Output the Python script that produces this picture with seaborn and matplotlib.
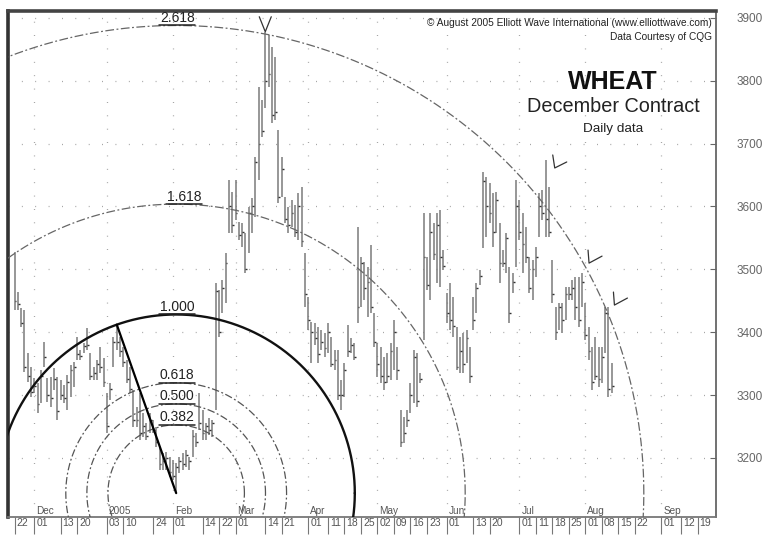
import numpy as np
import pandas as pd
import matplotlib
matplotlib.use("Agg")
import matplotlib.pyplot as plt
import matplotlib.transforms as mtransforms
import seaborn as sns

# ---- trading calendar -------------------------------------------------------
first_session = "2004-11-22"
last_session = "2005-09-30"
exchange_holidays = ["2004-11-25", "2004-12-24", "2005-01-17", "2005-02-21",
                     "2005-03-25", "2005-05-30", "2005-07-04", "2005-09-05"]

# ---- daily bars (December wheat) --------------------------------------------
highs = [3528, 3464, 3438, 3435, 3367, 3345, 3327, 3319, 3340, 3384,
         3327, 3329, 3343, 3329, 3324, 3316, 3332, 3348, 3353, 3392,
         3372, 3383, 3407, 3367, 3345, 3356, 3376, 3359, 3303, 3319,
         3392, 3412, 3392, 3376, 3356, 3345, 3308, 3281, 3303, 3272,
         3256, 3272, 3260, 3249, 3217, 3208, 3210, 3202, 3197, 3192,
         3202, 3208, 3213, 3202, 3245, 3240, 3303, 3276, 3256, 3264,
         3260, 3478, 3467, 3483, 3526, 3642, 3623, 3642, 3575, 3574,
         3558, 3599, 3613, 3679, 3790, 3769, 3878, 3873, 3853, 3838,
         3721, 3679, 3615, 3599, 3610, 3602, 3621, 3631, 3526, 3456,
         3416, 3415, 3408, 3404, 3399, 3415, 3392, 3372, 3372, 3324,
         3351, 3411, 3391, 3383, 3567, 3520, 3512, 3504, 3539, 3431,
         3383, 3376, 3361, 3367, 3383, 3419, 3376, 3276, 3265, 3276,
         3319, 3372, 3367, 3335, 3590, 3520, 3590, 3574, 3590, 3594,
         3531, 3462, 3478, 3456, 3408, 3392, 3399, 3404, 3376, 3456,
         3478, 3499, 3655, 3647, 3637, 3621, 3623, 3574, 3531, 3558,
         3504, 3494, 3642, 3610, 3590, 3567, 3520, 3515, 3535, 3621,
         3626, 3674, 3631, 3515, 3440, 3446, 3446, 3472, 3472, 3483,
         3488, 3488, 3494, 3446, 3408, 3376, 3392, 3376, 3376, 3440,
         3440, 3351]
lows = [3435, 3435, 3408, 3337, 3321, 3297, 3303, 3272, 3287, 3345,
        3289, 3281, 3308, 3260, 3292, 3287, 3276, 3297, 3313, 3356,
        3356, 3367, 3372, 3324, 3324, 3324, 3335, 3313, 3240, 3292,
        3345, 3372, 3361, 3345, 3319, 3303, 3249, 3249, 3229, 3233,
        3229, 3240, 3240, 3217, 3181, 3181, 3181, 3170, 3165, 3144,
        3176, 3181, 3186, 3181, 3202, 3217, 3245, 3229, 3229, 3237,
        3233, 3276, 3392, 3431, 3446, 3558, 3558, 3578, 3547, 3535,
        3494, 3526, 3558, 3583, 3642, 3710, 3757, 3790, 3733, 3737,
        3605, 3615, 3574, 3558, 3567, 3551, 3547, 3535, 3440, 3404,
        3351, 3380, 3351, 3372, 3361, 3367, 3345, 3340, 3292, 3276,
        3297, 3361, 3367, 3356, 3415, 3440, 3451, 3424, 3431, 3376,
        3329, 3319, 3308, 3319, 3324, 3340, 3324, 3217, 3224, 3249,
        3272, 3287, 3281, 3319, 3388, 3467, 3451, 3515, 3478, 3472,
        3499, 3415, 3404, 3392, 3340, 3335, 3335, 3351, 3319, 3404,
        3431, 3475, 3534, 3551, 3574, 3535, 3558, 3478, 3504, 3494,
        3415, 3462, 3504, 3547, 3494, 3510, 3462, 3451, 3488, 3551,
        3578, 3551, 3551, 3446, 3388, 3404, 3399, 3419, 3451, 3451,
        3419, 3408, 3440, 3388, 3356, 3308, 3324, 3313, 3319, 3367,
        3297, 3303]
closes = [3450, 3445, 3415, 3345, 3330, 3305, 3315, 3285, 3330, 3360,
          3300, 3295, 3325, 3275, 3300, 3295, 3320, 3340, 3345, 3365,
          3362, 3378, 3380, 3330, 3335, 3350, 3345, 3320, 3250, 3310,
          3385, 3385, 3370, 3352, 3325, 3310, 3260, 3260, 3240, 3250,
          3235, 3260, 3245, 3225, 3190, 3195, 3200, 3178, 3172, 3185,
          3195, 3190, 3205, 3195, 3235, 3225, 3255, 3240, 3250, 3245,
          3255, 3465, 3400, 3470, 3510, 3600, 3570, 3590, 3555, 3560,
          3500, 3590, 3600, 3670, 3700, 3720, 3800, 3810, 3745, 3750,
          3615, 3660, 3580, 3570, 3590, 3560, 3600, 3545, 3460, 3420,
          3400, 3390, 3365, 3385, 3375, 3400, 3350, 3355, 3300, 3300,
          3340, 3370, 3380, 3360, 3440, 3510, 3470, 3480, 3440, 3385,
          3350, 3330, 3320, 3330, 3370, 3400, 3340, 3225, 3240, 3260,
          3300, 3360, 3290, 3325, 3520, 3475, 3560, 3525, 3570, 3520,
          3505, 3430, 3420, 3410, 3345, 3370, 3350, 3390, 3330, 3420,
          3470, 3490, 3640, 3600, 3590, 3560, 3610, 3510, 3510, 3550,
          3430, 3480, 3600, 3560, 3540, 3520, 3470, 3500, 3520, 3600,
          3590, 3580, 3560, 3460, 3400, 3440, 3420, 3460, 3460, 3470,
          3440, 3420, 3480, 3395, 3370, 3320, 3330, 3325, 3360, 3430,
          3310, 3315]

price_ticks = [3200, 3300, 3400, 3500, 3600, 3700, 3800, 3900]
day_ticks = ["2004-11-22", "2004-12-01", "2004-12-13", "2004-12-20",
             "2005-01-03", "2005-01-10", "2005-01-24", "2005-02-01",
             "2005-02-14", "2005-02-22", "2005-03-01", "2005-03-14",
             "2005-03-21", "2005-04-01", "2005-04-11", "2005-04-18",
             "2005-04-25", "2005-05-02", "2005-05-09", "2005-05-16",
             "2005-05-23", "2005-06-01", "2005-06-13", "2005-06-20",
             "2005-07-01", "2005-07-11", "2005-07-18", "2005-07-25",
             "2005-08-01", "2005-08-08", "2005-08-15", "2005-08-22",
             "2005-09-01", "2005-09-12", "2005-09-19"]
month_starts = ["2004-12-01", "2005-01-03", "2005-02-01", "2005-03-01",
                "2005-04-01", "2005-05-02", "2005-06-01", "2005-07-01",
                "2005-08-01", "2005-09-01"]
month_names = ["Dec", "2005", "Feb", "Mar", "Apr", "May", "Jun", "Jul",
               "Aug", "Sep"]
fib_ratios = [0.382, 0.500, 0.618, 1.000, 1.618, 2.618]
fib_labels = ["0.382", "0.500", "0.618", "1.000", "1.618", "2.618"]
marked_highs = [76, 161, 172, 180]

# ---- style -------------------------------------------------------------------
sns.set_theme(style="white")
plt.rcParams["font.family"] = ["Liberation Sans", "DejaVu Sans"]

sessions = pd.bdate_range(first_session, last_session).difference(
    pd.to_datetime(exchange_holidays))
session_pos = {d: i for i, d in enumerate(sessions)}

bars = pd.DataFrame({"session": np.arange(len(highs)), "high": highs,
                     "low": lows, "close": closes})

W, H = 762, 536
fig = plt.figure(figsize=(W / 100, H / 100), dpi=100)
ax = fig.add_axes([8 / W, 19 / H, 708 / W, 506 / H])
ax.set_xlim(-1.97, 212.6)
ax.set_ylim(3106, 3911)

# dotted reference grid
for p in price_ticks:
    ax.axhline(p, color="#9a9a9a", lw=0.9, ls=(0, (0.7, 10)), zorder=0)
for d in month_starts:
    ax.axvline(session_pos[pd.Timestamp(d)], color="#9a9a9a", lw=0.9,
               ls=(0, (0.7, 10)), zorder=0)

# high-low bars with close ticks
ax.vlines(bars["session"], bars["low"], bars["high"], color="#7a7a7a",
          lw=1.1, zorder=3)
ax.hlines(bars["close"], bars["session"], bars["session"] + 0.55,
          color="#333333", lw=1.0, zorder=4)

# swing used for the circles: January high down to the February low
hi_i = 20 + int(np.argmax(highs[20:45]))
lo_i = int(np.argmin(lows[:60]))
swing = pd.DataFrame({"session": [hi_i, lo_i],
                      "price": [highs[hi_i], lows[lo_i]]})
sns.lineplot(data=swing, x="session", y="price", ax=ax, color="black",
             lw=1.6, zorder=6)

to_disp = ax.transData
to_data = ax.transData.inverted()
centre = to_disp.transform((lo_i, lows[lo_i]))
radius = np.hypot(*(to_disp.transform((hi_i, highs[hi_i])) - centre))
theta = np.linspace(0, 2 * np.pi, 1441)
ring_styles = {
    0.382: dict(color="#555555", lw=0.9, ls=(0, (6, 2, 1.5, 2))),
    0.500: dict(color="#555555", lw=0.9, ls=(0, (6, 2, 1.5, 2))),
    0.618: dict(color="#555555", lw=0.9, ls=(0, (6, 2, 1.5, 2))),
    1.000: dict(color="#111111", lw=1.7, ls="-"),
    1.618: dict(color="#666666", lw=0.9, ls=(0, (7, 2, 1.5, 2))),
    2.618: dict(color="#666666", lw=0.9, ls=(0, (7, 2, 1.5, 2))),
}
for ratio, label in zip(fib_ratios, fib_labels):
    pts = centre + ratio * radius * np.column_stack([np.cos(theta), np.sin(theta)])
    ring = to_data.transform(pts)
    ax.plot(ring[:, 0], ring[:, 1], zorder=5, **ring_styles[ratio])
    shift = 8 if ratio == 1.618 else 1
    top = centre + np.array([shift, ratio * radius])
    tx, ty = to_data.transform(top + np.array([0, 3.5]))
    ax.text(tx, ty, label, ha="center", va="baseline", fontsize=10,
            color="#222222", zorder=7)
    seg = to_data.transform(np.array([top + [-18, 0], top + [18, 0]]))
    ax.plot(seg[:, 0], seg[:, 1], color="#222222", lw=1.1, zorder=6)

# chevrons at the highs that reach the outer circles
chevrons = {
    76: ([0, 0], [(-6, 15), (0, 0), (6, 15)]),
    161: ([9, -8], [(-2, 13), (0, 0), (12, 6)]),
    172: ([7, 10], [(-1, 13), (0, 0), (13, 7)]),
    180: ([6, 2], [(-1, 13), (0, 0), (13, 7)]),
}
for i in marked_highs:
    base, shape = chevrons[i]
    anchor = to_disp.transform((i, highs[i])) + np.array(base)
    pts = to_data.transform(anchor + np.array(shape))
    ax.plot(pts[:, 0], pts[:, 1], color="#333333", lw=0.9, zorder=7)

# axes: prices on the right, session days below
ax.yaxis.tick_right()
ax.set_yticks(price_ticks)
ax.set_yticklabels([str(p) for p in price_ticks])
ax.tick_params(axis="y", direction="in", length=4, width=0.8, pad=15,
               labelsize=8.5, labelcolor="#666666", color="#666666",
               right=True, left=False)
tick_pos = [session_pos[pd.Timestamp(d)] for d in day_ticks]
ax.set_xticks(tick_pos)
ax.set_xticklabels([f"{pd.Timestamp(d).day:02d}" for d in day_ticks])
ax.tick_params(axis="x", direction="out", length=12, width=0.8, pad=-11,
               labelsize=7.5, labelcolor="#555555", color="#777777",
               bottom=True)
nudge = mtransforms.ScaledTranslation(2 / 100, 0, fig.dpi_scale_trans)
for lbl in ax.get_xticklabels():
    lbl.set_horizontalalignment("left")
    lbl.set_transform(lbl.get_transform() + nudge)
month_nudge = mtransforms.ScaledTranslation(2 / 100, 1 / 100, fig.dpi_scale_trans)
for d, name in zip(month_starts, month_names):
    ax.text(session_pos[pd.Timestamp(d)], 0.0, name,
            transform=mtransforms.blended_transform_factory(ax.transData, ax.transAxes) + month_nudge,
            ha="left", va="bottom", fontsize=7.2, color="#555555")
ax.set_xlabel("")
ax.set_ylabel("")

ax.spines["left"].set_linewidth(2.6)
ax.spines["left"].set_color("#333333")
ax.spines["top"].set_linewidth(2.6)
ax.spines["top"].set_color("#444444")
ax.spines["right"].set_linewidth(1.3)
ax.spines["right"].set_color("#666666")
ax.spines["bottom"].set_linewidth(1.3)
ax.spines["bottom"].set_color("#777777")

# header text
fig.text(712 / W, 1 - 23 / H,
         "\u00a9 August 2005 Elliott Wave International (www.elliottwave.com)",
         ha="right", va="center", fontsize=7.3, color="#222222")
fig.text(712 / W, 1 - 37 / H, "Data Courtesy of CQG", ha="right",
         va="center", fontsize=7.3, color="#222222")
fig.text(613 / W, 1 - 82 / H, "WHEAT", ha="center", va="center",
         fontsize=18, fontweight="bold", color="#111111")
fig.text(613 / W, 1 - 106 / H, "December Contract", ha="center",
         va="center", fontsize=14.3, color="#222222")
fig.text(613 / W, 1 - 129 / H, "Daily data", ha="center", va="center",
         fontsize=9.7, color="#222222")

fig.savefig("out.png", dpi=100)
